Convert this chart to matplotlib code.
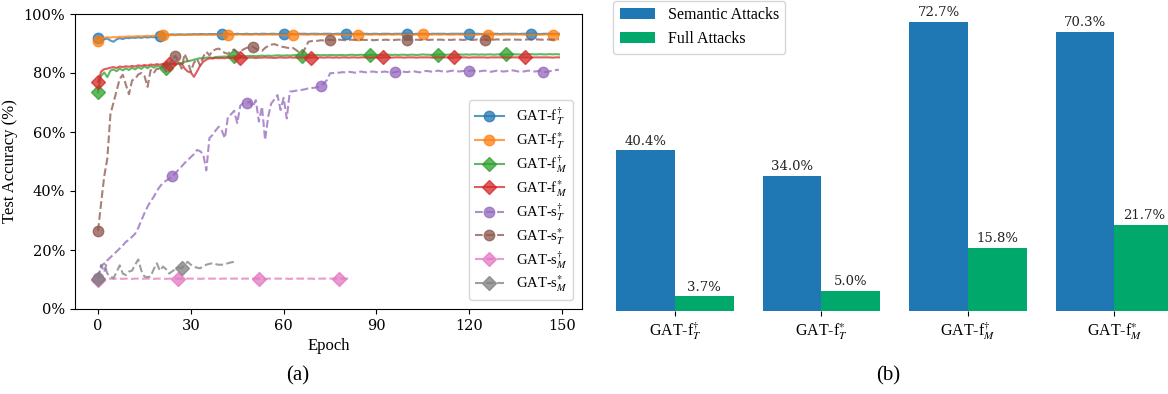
import matplotlib.pyplot as plt
import numpy as np

plt.rcParams['font.family'] = 'serif'
plt.rcParams['font.serif'] = ['Liberation Serif', 'DejaVu Serif']
plt.rcParams['mathtext.fontset'] = 'stix'

# Test accuracy (%) per epoch for each model / attack setting
f_T_dagger = [
    92.0, 91.8, 91.4, 91.7, 91.0, 90.6, 91.4, 91.8, 91.5, 91.9,
    91.8, 92.0, 91.9, 92.1, 91.9, 92.2, 92.0, 92.2, 92.1, 92.3,
    92.6, 92.9, 93.0, 93.0, 93.1, 93.0, 93.1, 93.1, 93.0, 93.1,
    93.1, 93.2, 93.1, 93.2, 93.2, 93.1, 93.2, 93.2, 93.2, 93.1,
    93.2, 93.2, 93.3, 93.2, 93.2, 93.3, 93.2, 93.2, 93.3, 93.2,
    93.2, 93.3, 93.2, 93.3, 93.3, 93.2, 93.3, 93.3, 93.2, 93.3,
    93.3, 93.2, 93.3, 93.3, 93.2, 93.3, 93.3, 93.3, 93.2, 93.3,
    93.3, 93.3, 93.2, 93.3, 93.3, 93.3, 93.2, 93.3, 93.3, 93.2,
    93.3, 93.3, 93.3, 93.2, 93.3, 93.3, 93.3, 93.3, 93.2, 93.3,
    93.3, 93.2, 93.3, 93.3, 93.3, 93.2, 93.3, 93.3, 93.3, 93.3,
    93.3, 93.3, 93.2, 93.3, 93.3, 93.3, 93.3, 93.2, 93.3, 93.3,
    93.3, 93.3, 93.3, 93.2, 93.3, 93.3, 93.3, 93.3, 93.3, 93.2,
    93.3, 93.3, 93.3, 93.3, 93.2, 93.3, 93.3, 93.3, 93.3, 93.3,
    93.2, 93.3, 93.3, 93.3, 93.3, 93.3, 93.2, 93.3, 93.3, 93.3,
    93.3, 93.3, 93.3, 93.2, 93.3, 93.3, 93.3, 93.3, 93.3, 93.3,
]
f_T_star = [
    91.0, 91.7, 92.0, 92.1, 92.0, 92.2, 92.1, 92.3, 92.2, 92.3,
    92.4, 92.3, 92.4, 92.5, 92.4, 92.5, 92.6, 92.5, 92.6, 92.7,
    92.7, 92.8, 92.8, 92.8, 92.9, 92.8, 92.9, 92.9, 92.9, 93.0,
    92.9, 93.0, 93.0, 92.9, 93.0, 93.0, 93.0, 92.9, 93.0, 93.0,
    93.0, 93.0, 93.0, 92.9, 93.0, 93.0, 93.1, 93.0, 93.0, 93.0,
    93.0, 93.1, 93.0, 93.0, 93.0, 93.1, 93.0, 93.0, 93.1, 93.0,
    93.0, 93.0, 93.1, 93.0, 93.0, 93.1, 93.0, 93.0, 93.0, 93.1,
    93.0, 93.0, 93.1, 93.0, 93.0, 93.0, 93.1, 93.0, 93.0, 93.1,
    93.0, 93.0, 93.0, 93.1, 93.0, 93.0, 93.1, 93.0, 93.0, 93.0,
    93.1, 93.0, 93.0, 93.0, 93.1, 93.0, 93.0, 93.1, 93.0, 93.0,
    93.0, 93.1, 93.0, 93.0, 93.0, 93.1, 93.0, 93.0, 93.0, 93.1,
    93.0, 93.0, 93.1, 93.0, 93.0, 93.0, 93.1, 93.0, 93.0, 93.0,
    93.1, 93.0, 93.0, 93.0, 93.1, 93.0, 93.0, 93.0, 93.1, 93.0,
    93.0, 93.0, 93.1, 93.0, 93.0, 93.0, 93.1, 93.0, 93.0, 93.0,
    93.1, 93.0, 93.0, 93.0, 93.0, 93.1, 93.0, 93.0, 93.0, 93.0,
]
f_M_dagger = [
    73.5, 79.0, 80.2, 78.6, 80.8, 81.2, 80.6, 81.5, 80.9, 81.6,
    81.0, 81.8, 81.2, 82.0, 81.4, 82.3, 81.6, 82.4, 81.8, 82.5,
    82.0, 82.6, 81.8, 82.9, 83.2, 82.6, 83.6, 83.0, 83.8, 84.0,
    84.2, 84.5, 84.8, 85.0, 84.9, 85.2, 85.3, 85.1, 85.4, 85.5,
    85.5, 85.6, 85.5, 85.6, 85.7, 85.6, 85.7, 85.8, 85.7, 85.8,
    85.8, 85.7, 85.8, 85.9, 85.8, 85.9, 85.8, 85.9, 86.0, 85.9,
    85.9, 86.0, 85.9, 86.0, 86.1, 86.0, 85.9, 86.0, 86.1, 86.0,
    86.0, 86.1, 86.0, 86.1, 86.0, 86.1, 86.1, 86.0, 86.1, 86.1,
    86.0, 86.1, 86.2, 86.1, 86.1, 86.2, 86.1, 86.0, 86.1, 86.2,
    86.1, 86.2, 86.1, 86.2, 86.2, 86.1, 86.2, 86.1, 86.2, 86.2,
    86.1, 86.2, 86.2, 86.1, 86.2, 86.3, 86.2, 86.2, 86.1, 86.2,
    86.2, 86.3, 86.2, 86.2, 86.3, 86.2, 86.2, 86.3, 86.2, 86.3,
    86.2, 86.3, 86.3, 86.2, 86.3, 86.2, 86.3, 86.3, 86.2, 86.3,
    86.3, 86.2, 86.3, 86.3, 86.4, 86.3, 86.3, 86.2, 86.3, 86.3,
    86.4, 86.3, 86.3, 86.4, 86.3, 86.3, 86.4, 86.3, 86.4, 86.3,
]
f_M_star = [
    77.0, 80.5, 81.3, 81.5, 81.8, 82.0, 81.7, 82.2, 82.0, 82.3,
    82.1, 82.4, 82.2, 82.6, 82.4, 82.7, 82.5, 82.9, 82.7, 83.0,
    82.8, 83.1, 82.9, 83.2, 83.0, 83.4, 83.1, 83.3, 81.5, 80.5,
    80.2, 78.7, 80.5, 82.5, 83.8, 84.5, 85.0, 84.9, 85.1, 85.0,
    85.1, 85.0, 85.2, 85.1, 85.2, 85.1, 85.2, 85.2, 85.1, 85.2,
    85.2, 85.1, 85.2, 85.2, 85.3, 85.2, 85.2, 85.1, 85.2, 85.3,
    85.2, 85.2, 85.3, 85.2, 85.2, 85.3, 85.2, 85.3, 85.2, 85.2,
    85.3, 85.2, 85.3, 85.2, 85.3, 85.3, 85.2, 85.3, 85.2, 85.3,
    85.3, 85.2, 85.3, 85.3, 85.2, 85.3, 85.3, 85.3, 85.2, 85.3,
    85.3, 85.2, 85.3, 85.3, 85.3, 85.2, 85.3, 85.3, 85.3, 85.2,
    85.3, 85.3, 85.3, 85.2, 85.3, 85.3, 85.3, 85.3, 85.2, 85.3,
    85.3, 85.3, 85.3, 85.3, 85.2, 85.3, 85.3, 85.3, 85.3, 85.3,
    85.2, 85.3, 85.3, 85.3, 85.3, 85.3, 85.2, 85.3, 85.3, 85.3,
    85.3, 85.3, 85.3, 85.2, 85.3, 85.3, 85.3, 85.3, 85.3, 85.3,
    85.2, 85.3, 85.3, 85.3, 85.3, 85.3, 85.3, 85.2, 85.3, 85.3,
]
s_T_dagger = [
    10.5, 15.0, 12.5, 16.5, 17.5, 18.5, 19.5, 20.5, 21.5, 22.8,
    23.4, 24.5, 25.5, 27.5, 30.0, 32.5, 34.7, 36.5, 38.0, 40.0,
    41.5, 42.8, 43.5, 44.2, 45.0, 46.0, 47.2, 48.3, 49.5, 50.5,
    51.5, 52.5, 53.9, 53.5, 52.5, 47.0, 57.9, 59.0, 60.5, 61.8,
    60.5, 57.9, 65.2, 66.0, 67.2, 63.0, 69.0, 69.7, 69.8, 70.3,
    68.5, 70.8, 63.5, 68.6, 57.3, 65.2, 69.7, 71.0, 72.5, 67.5,
    71.6, 64.6, 73.7, 73.8, 74.0, 74.2, 74.3, 74.5, 74.8, 74.9,
    75.0, 75.2, 75.6, 76.5, 77.6, 79.9, 80.0, 80.2, 80.1, 80.3,
    80.2, 80.4, 80.3, 80.1, 80.3, 80.5, 80.3, 80.2, 80.4, 80.5,
    80.3, 80.1, 80.4, 80.5, 80.2, 80.1, 80.3, 80.5, 80.6, 80.4,
    80.3, 80.5, 80.6, 80.4, 80.2, 80.5, 80.7, 80.6, 80.4, 80.6,
    80.8, 80.6, 80.4, 80.5, 80.7, 80.8, 80.6, 80.5, 80.7, 80.6,
    80.7, 80.9, 80.6, 80.5, 80.7, 80.8, 80.6, 80.4, 80.6, 80.8,
    80.7, 80.5, 80.6, 80.8, 80.9, 80.7, 80.5, 80.4, 80.6, 80.8,
    80.7, 80.5, 80.6, 80.8, 80.4, 80.3, 80.6, 80.8, 81.0, 81.1,
]
s_T_star = [
    26.5, 36.0, 45.0, 51.0, 66.0, 70.0, 74.0, 78.0, 79.4, 76.0,
    72.8, 77.5, 78.0, 79.5, 80.0, 79.0, 75.3, 81.0, 80.0, 81.5,
    81.2, 82.0, 80.5, 83.0, 84.5, 85.8, 84.0, 81.5, 86.5, 84.0,
    80.5, 83.5, 84.8, 82.5, 85.5, 87.2, 86.0, 87.5, 88.0, 88.3,
    87.5, 86.8, 86.5, 87.5, 88.0, 87.0, 87.2, 88.0, 88.5, 88.8,
    88.9, 88.2, 87.8, 87.5, 88.5, 89.2, 89.6, 89.8, 89.4, 89.0,
    88.8, 88.6, 88.4, 88.5, 87.8, 87.0, 86.5, 88.5, 90.6, 90.8,
    91.0, 90.9, 91.1, 91.0, 91.2, 91.2, 91.1, 91.2, 91.3, 91.2,
    91.1, 91.2, 91.3, 91.2, 91.1, 91.3, 91.2, 91.2, 91.3, 91.1,
    91.2, 91.3, 91.2, 91.3, 91.2, 91.1, 91.2, 91.3, 91.3, 91.2,
    91.3, 91.2, 91.1, 91.3, 91.2, 91.3, 91.3, 91.2, 91.3, 91.2,
    91.3, 91.3, 91.2, 91.3, 91.2, 91.3, 91.4, 91.3, 91.2, 91.3,
    91.3, 91.2, 91.3, 91.4, 91.3, 91.3, 91.2, 91.3, 91.3, 91.4,
    91.3, 91.2, 91.3, 91.3, 91.4, 91.3, 91.3, 91.2, 91.3, 91.4,
    91.3, 91.3, 91.4, 91.3, 91.3, 91.4, 91.3, 91.3, 91.4, 91.4,
]
s_M_dagger = [
    10.0, 10.2, 10.3, 10.2, 10.3, 10.2, 10.3, 10.3, 10.2, 10.3,
    10.3, 10.2, 10.3, 10.3, 10.2, 10.3, 10.3, 10.3, 10.2, 10.3,
    10.3, 10.3, 10.2, 10.3, 10.3, 10.3, 10.3, 10.2, 10.3, 10.3,
    10.3, 10.3, 10.3, 10.2, 10.3, 10.3, 10.3, 10.3, 10.3, 10.2,
    10.3, 10.3, 10.3, 10.3, 10.3, 10.3, 10.2, 10.3, 10.3, 10.3,
    10.3, 10.3, 10.3, 10.3, 10.2, 10.3, 10.3, 10.3, 10.3, 10.3,
    10.3, 10.3, 10.2, 10.3, 10.3, 10.3, 10.3, 10.3, 10.3, 10.3,
    10.2, 10.3, 10.3, 10.3, 10.3, 10.3, 10.3, 10.3, 10.3, 10.3,
    10.3, 10.3, 10.3,
]
s_M_star = [
    10.2, 14.4, 15.5, 12.0, 11.0, 10.5, 12.5, 14.8, 12.0, 11.5,
    12.7, 13.0, 15.0, 16.8, 13.0, 11.0, 10.8, 11.0, 13.5, 15.5,
    13.0, 14.4, 13.5, 12.0, 12.8, 13.5, 14.0, 13.8, 15.0, 16.0,
    15.0, 14.4, 14.0, 13.8, 14.5, 15.0, 15.3, 15.5, 15.2, 15.0,
    15.0, 15.3, 15.5, 15.8, 16.0,
]

series = [f_T_dagger, f_T_star, f_M_dagger, f_M_star,
          s_T_dagger, s_T_star, s_M_dagger, s_M_star]
labels = [r'GAT-f$^{\dagger}_{T}$', r'GAT-f$^{*}_{T}$',
          r'GAT-f$^{\dagger}_{M}$', r'GAT-f$^{*}_{M}$',
          r'GAT-s$^{\dagger}_{T}$', r'GAT-s$^{*}_{T}$',
          r'GAT-s$^{\dagger}_{M}$', r'GAT-s$^{*}_{M}$']
markers = ['o', 'o', 'D', 'D', 'o', 'o', 'D', 'D']
styles = ['-', '-', '-', '-', '--', '--', '--', '--']

# Attack success rates (%)
bar_groups = [r'GAT-f$^{\dagger}_{T}$', r'GAT-f$^{*}_{T}$',
              r'GAT-f$^{\dagger}_{M}$', r'GAT-f$^{*}_{M}$']
semantic_attacks = [40.4, 34.0, 72.7, 70.3]
full_attacks = [3.7, 5.0, 15.8, 21.7]

fig = plt.figure(figsize=(11.68, 3.94), dpi=100)
ax1 = fig.add_axes([75 / 1168, 85 / 394, 507 / 1168, 295 / 394])
ax2 = fig.add_axes([607.6 / 1168, 83 / 394, 561 / 1168, 310 / 394])

# (a) accuracy curves
for i, (vals, lab) in enumerate(zip(series, labels)):
    ax1.plot(np.arange(len(vals)), vals, linestyle=styles[i], marker=markers[i],
             markevery=20 + i, markersize=7.5 if markers[i] == 'o' else 7,
             color=f'C{i}', alpha=0.75, linewidth=1.5, label=lab)
ax1.set_ylim(0, 100)
ax1.set_xticks([0, 30, 60, 90, 120, 150])
ax1.set_yticks([0, 20, 40, 60, 80, 100])
ax1.set_yticklabels([f'{v}%' for v in [0, 20, 40, 60, 80, 100]])
for lbl in ax1.get_xticklabels() + ax1.get_yticklabels():
    lbl.set_family('DejaVu Serif')
    lbl.set_fontsize(10.5)
ax1.set_xlabel('Epoch', fontsize=12)
ax1.set_ylabel('Test Accuracy (%)', fontsize=12)
ax1.legend(loc='lower right', fontsize=10.5, labelspacing=0.2,
           borderaxespad=0.6)

# (b) grouped bars
x = np.arange(len(bar_groups))
width = 0.4
b1 = ax2.bar(x - width / 2, semantic_attacks, width, color='#1f77b4', label='Semantic Attacks')
b2 = ax2.bar(x + width / 2, full_attacks, width, color='#00a86b', label='Full Attacks')
for bars in (b1, b2):
    ax2.bar_label(bars, fmt='%.1f%%', padding=2, fontsize=9.5, family='DejaVu Serif', color='#222222')
ax2.set_xticks(x)
ax2.set_xticklabels(bar_groups, fontsize=11.5)
ax2.set_yticks([])
ax2.set_xlim(-0.46, 3.37)
ax2.set_ylim(0, 78)
for side in ['top', 'right', 'left', 'bottom']:
    ax2.spines[side].set_visible(False)
ax2.legend(loc='upper left', bbox_to_anchor=(0.01, 1.0), borderaxespad=0,
           fontsize=11.5, handlelength=2.2)

fig.text(298 / 1168, 1 - 376 / 394, '(a)', ha='center', va='center', fontsize=15)
fig.text(888 / 1168, 1 - 376 / 394, '(b)', ha='center', va='center', fontsize=15)

fig.savefig('out.png', dpi=100)
